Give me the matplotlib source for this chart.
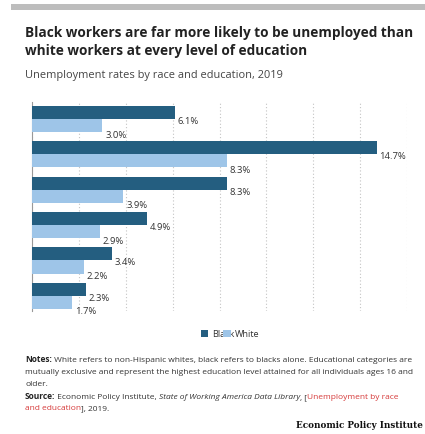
import matplotlib
matplotlib.use('Agg')
import matplotlib.pyplot as plt
import numpy as np
from matplotlib.patches import Rectangle

# unemployment rates by education level, 2019 (top to bottom)
black = [6.1, 14.7, 8.3, 4.9, 3.4, 2.3]
white = [3.0, 8.3, 3.9, 2.9, 2.2, 1.7]
series_names = ['Black', 'White']

dark = '#245e80'
light = '#9ec5e8'
txt = '#333333'

plt.rcParams['font.family'] = ['Open Sans', 'DejaVu Sans']

fig = plt.figure(figsize=(4.25, 4.35), dpi=100)
W, H = 425, 435

def fx(px):
    return px / W

def fy(py):
    return 1 - py / H

# grey band at the very top
fig.patches.append(Rectangle((fx(11), fy(11)), 1 - fx(11), 6 / H, transform=fig.transFigure,
                             color='#bdbdbd', lw=0))

fig.text(fx(25), fy(37), 'Black workers are far more likely to be unemployed than',
         fontsize=9.8, fontweight='bold', color='#222222', va='baseline')
fig.text(fx(25), fy(55), 'white workers at every level of education',
         fontsize=9.8, fontweight='bold', color='#222222', va='baseline')
fig.text(fx(25), fy(78), 'Unemployment rates by race and education, 2019',
         fontsize=7.9, color='#444444', va='baseline')

ax = fig.add_axes([fx(32), fy(312), fx(407) - fx(32), (312 - 103) / H])

y = np.arange(len(black))
h = 0.37
ax.barh(y - h / 2, black, height=h, color=dark, label=series_names[0], zorder=3)
ax.barh(y + h / 2, white, height=h, color=light, label=series_names[1], zorder=3)

for i, (b, w) in enumerate(zip(black, white)):
    ax.text(b + 0.12, i + 0.04, f'{b:.1f}%', fontsize=6.8, color=txt, va='center')
    ax.text(w + 0.12, i + h + 0.06, f'{w:.1f}%', fontsize=6.8, color=txt, va='center')

ax.set_xlim(0, 16)
ax.set_ylim(5.43, -0.48)
ax.set_xticks(np.arange(0, 17, 2))
ax.set_yticks([])
ax.tick_params(axis='x', length=0, labelbottom=False)
ax.grid(axis='x', color='#c4c4c4', linestyle=(0, (1, 2)), linewidth=0.8, zorder=0)
for s in ['top', 'right', 'bottom']:
    ax.spines[s].set_visible(False)
ax.spines['left'].set_color('#999999')
ax.spines['left'].set_linewidth(0.8)

handles, labels = ax.get_legend_handles_labels()
fig.legend(handles, labels, loc='center', bbox_to_anchor=(fx(230), fy(335)), ncol=2,
           frameon=False, fontsize=6.6, handlelength=0.8, handleheight=0.9,
           handletextpad=0.4, columnspacing=-1.2, labelcolor=txt)

# notes and source lines
fig.canvas.draw()
renderer = fig.canvas.get_renderer()

def run(x, yb, parts, size=6.0):
    # lay out text pieces one after another on a baseline
    for s, kw in parts:
        t = fig.text(x, yb, s, fontsize=size, va='baseline', **kw)
        bb = t.get_window_extent(renderer)
        x = fig.transFigure.inverted().transform((bb.x1, 0))[0]
    return x

run(fx(25), fy(362), [('Notes:', dict(fontweight='bold', color='#222222')),
                      (' White refers to non-Hispanic whites, black refers to blacks alone. Educational categories are',
                       dict(color=txt))])
fig.text(fx(25), fy(374), 'mutually exclusive and represent the highest education level attained for all individuals ages 16 and',
         fontsize=6.0, color=txt, va='baseline')
fig.text(fx(25), fy(386), 'older.', fontsize=6.0, color=txt, va='baseline')
run(fx(25), fy(399), [('Source:', dict(fontweight='bold', color='#222222')),
                      (' Economic Policy Institute, ', dict(color=txt)),
                      ('State of Working America Data Library', dict(color=txt, style='italic')),
                      (', [', dict(color=txt)),
                      ('Unemployment by race', dict(color='#d63a3a'))])
run(fx(25), fy(410), [('and education', dict(color='#d63a3a')),
                      ('], 2019.', dict(color=txt))])

fig.text(fx(423), fy(428), 'Economic Policy Institute', fontsize=6.3, fontweight='bold',
         family='DejaVu Serif', color='#111111', va='baseline', ha='right')

fig.savefig('out.png', dpi=100)
